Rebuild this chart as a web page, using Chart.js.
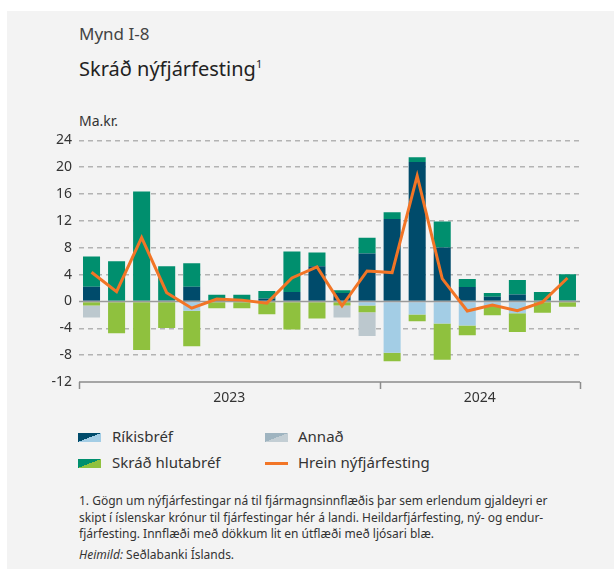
<!DOCTYPE html>
<html>
<head>
<meta charset="utf-8">
<script src="https://cdn.jsdelivr.net/npm/chart.js@4.4.1/dist/chart.umd.min.js"></script>
<style>
  html, body { margin: 0; padding: 0; background: #fff; }
  body { width: 614px; height: 569px; position: relative; overflow: hidden; font-family: 'Noto Sans', sans-serif; }
  #panel { position: absolute; left: 7px; top: 11px; right: 0; bottom: 0; background: #f3f3f3; }
  .abs { position: absolute; white-space: nowrap; }
  #fig { left: 79px; top: 22px; font-size: 17px; color: #444; }
  #title { left: 79px; top: 55px; font-size: 20px; color: #222; }
  #title sup { font-size: 11px; vertical-align: 8px; }
  #unit { left: 79px; top: 111px; font-size: 14px; color: #333; }
  .leg { font-size: 15px; color: #333; }
  .icon { position: absolute; width: 23px; height: 9px; }
  #notes { left: 79px; top: 493px; font-size: 12px; line-height: 16.5px; color: #333; }
  #source { left: 79px; top: 546px; font-size: 12px; color: #333; }
  canvas { position: absolute; left: 0; top: 125px; }
</style>
</head>
<body>
<div id="panel"></div>
<div class="abs" id="fig">Mynd I-8</div>
<div class="abs" id="title">Skráð nýfjárfesting<sup>1</sup></div>
<div class="abs" id="unit">Ma.kr.</div>
<canvas id="chart" width="614" height="290"></canvas>

<div class="icon" style="left:78px;top:433px;background:linear-gradient(to bottom right,#004b6b 50%,#a3cde5 50%);"></div>
<div class="abs leg" style="left:112px;top:426px;">Ríkisbréf</div>
<div class="icon" style="left:78px;top:459px;background:linear-gradient(to bottom right,#008f6e 50%,#8fc13e 50%);"></div>
<div class="abs leg" style="left:112px;top:452px;">Skráð hlutabréf</div>
<div class="icon" style="left:265px;top:433px;background:linear-gradient(to bottom right,#9fb4c0 50%,#c3ced4 50%);"></div>
<div class="abs leg" style="left:298px;top:426px;">Annað</div>
<div class="icon" style="left:265px;top:462px;height:3px;background:#f27526;"></div>
<div class="abs leg" style="left:298px;top:452px;">Hrein nýfjárfesting</div>

<div class="abs" id="notes">1. Gögn um nýfjárfestingar ná til fjármagnsinnflæðis þar sem erlendum gjaldeyri er<br>skipt í íslenskar krónur til fjárfestingar hér á landi. Heildarfjárfesting, ný- og endur-<br>fjárfesting. Innflæði með dökkum lit en útflæði með ljósari blæ.</div>
<div class="abs" id="source"><i>Heimild:</i> Seðlabanki Íslands.</div>

<script>
// Months Jan 2023 - Aug 2024
const months = ['jan23','feb23','mar23','apr23','maí23','jún23','júl23','ágú23','sep23','okt23','nóv23','des23',
                'jan24','feb24','mar24','apr24','maí24','jún24','júl24','ágú24'];
const years = ['2023', '2024'];
const monthsPerYear = [12, 8];

// Ríkisbréf: innflæði / útflæði
const rikisInn = [2.2, 0, 0, 0.15, 2.2, 0, 0, 0.45, 1.4, 5.25, 1.27, 7.15, 12.3, 20.8, 8.04, 2.16, 0.69, 1.03, 0.15, 0.15];
const rikisUt  = [0, 0, 0, 0, -1.37, 0, 0, 0, 0, 0, 0, -0.6, -7.65, -1.93, -3.28, -3.58, -0.69, -1.76, 0, 0];
// Skráð hlutabréf: innflæði / útflæði
const hlutInn  = [4.5, 6.0, 16.4, 5.1, 3.5, 1.0, 1.0, 1.12, 6.05, 2.05, 0.4, 2.35, 1.0, 0.7, 3.86, 1.17, 0.58, 2.16, 1.27, 3.92];
const hlutUt   = [-0.6, -4.75, -7.25, -3.97, -5.3, -1.0, -1.0, -1.9, -4.17, -2.55, -0.6, -1.02, -1.27, -1.01, -5.42, -1.47, -1.37, -2.8, -1.67, -0.78];
// Annað (útflæði)
const annadUt  = [-1.8, 0, 0, 0, 0, 0, 0, 0, 0, 0, -1.8, -3.53, 0, 0, 0, 0, 0, 0, 0, 0];
// Hrein nýfjárfesting
const hrein    = [4.36, 1.47, 9.5, 1.3, -1.0, 0.35, 0.2, -0.25, 3.5, 5.15, -0.65, 4.55, 4.3, 18.7, 3.4, -1.42, -0.55, -1.37, -0.1, 3.5];

const yTicks = { min: -12, max: 24, step: 4 };

const colors = {
    rikisInn: '#004b6b',
    rikisUt: '#a3cde5',
    hlutInn: '#008f6e',
    hlutUt: '#8fc13e',
    annad: '#bcc8ce',
    line: '#f27526',
    grid: '#b3b3b3',
    axis: '#8c8c8c',
    text: '#333'
};

// zero line under the orange line, custom year axis at the bottom
const axisPlugin = {
    id: 'yearAxis',
    beforeDatasetDraw(chart, args) {
        if (chart.data.datasets[args.index].type !== 'line') return;
        const { ctx, chartArea, scales } = chart;
        const y0 = scales.y.getPixelForValue(0);
        ctx.save();
        ctx.strokeStyle = '#9a9a9a';
        ctx.lineWidth = 1.5;
        ctx.beginPath();
        ctx.moveTo(chartArea.left, y0);
        ctx.lineTo(chartArea.right, y0);
        ctx.stroke();
        ctx.restore();
    },
    afterDraw(chart) {
        const { ctx, chartArea, scales } = chart;
        const x = scales.x;
        const yb = chartArea.bottom;
        ctx.save();
        ctx.strokeStyle = colors.axis;
        ctx.lineWidth = 1.5;
        ctx.beginPath();
        ctx.moveTo(chartArea.left, yb);
        ctx.lineTo(chartArea.right, yb);
        let start = 0;
        const edges = [chartArea.left];
        monthsPerYear.forEach(n => {
            start += n;
            edges.push(start >= months.length ? chartArea.right
                : (x.getPixelForValue(start - 1) + x.getPixelForValue(start)) / 2);
        });
        edges.forEach(px => {
            ctx.moveTo(Math.round(px) + 0.5, yb);
            ctx.lineTo(Math.round(px) + 0.5, yb + 7);
        });
        ctx.stroke();
        ctx.fillStyle = colors.text;
        ctx.font = "14px 'Noto Sans', sans-serif";
        ctx.textAlign = 'center';
        ctx.textBaseline = 'middle';
        years.forEach((yr, i) => {
            ctx.fillText(yr, (edges[i] + edges[i + 1]) / 2, yb + 16);
        });
        ctx.restore();
    }
};

const barDs = (label, data, color) => ({
    type: 'bar', label, data, backgroundColor: color, stack: 's', order: 1,
    borderWidth: 0, barPercentage: 0.68, categoryPercentage: 1.0
});

new Chart(document.getElementById('chart').getContext('2d'), {
    data: {
        labels: months,
        datasets: [
            barDs('Ríkisbréf inn', rikisInn, colors.rikisInn),
            barDs('Skráð hlutabréf inn', hlutInn, colors.hlutInn),
            barDs('Ríkisbréf út', rikisUt, colors.rikisUt),
            barDs('Skráð hlutabréf út', hlutUt, colors.hlutUt),
            barDs('Annað út', annadUt, colors.annad),
            {
                type: 'line', label: 'Hrein nýfjárfesting', data: hrein,
                borderColor: colors.line, borderWidth: 3, pointRadius: 0,
                tension: 0, order: 0, borderJoinStyle: 'miter'
            }
        ]
    },
    options: {
        responsive: false,
        devicePixelRatio: 1,
        animation: false,
        layout: { padding: { top: 13, right: 34, bottom: 33, left: 0 } },
        scales: {
            x: { stacked: true, display: false, offset: true },
            y: {
                stacked: true,
                min: yTicks.min, max: yTicks.max,
                afterFit(scale) { scale.width = 79; },
                ticks: {
                    stepSize: yTicks.step, padding: 7, color: colors.text,
                    font: { family: "'Noto Sans', sans-serif", size: 14 }
                },
                grid: {
                    drawTicks: false,
                    lineWidth: 1.5,
                    color: c => (c.tick && (c.tick.value === 0 || c.tick.value === yTicks.min)) ? 'rgba(0,0,0,0)' : colors.grid
                },
                border: { display: false, dash: [5, 4] }
            }
        },
        plugins: {
            legend: { display: false },
            tooltip: { enabled: false }
        }
    },
    plugins: [axisPlugin]
});
</script>
</body>
</html>
